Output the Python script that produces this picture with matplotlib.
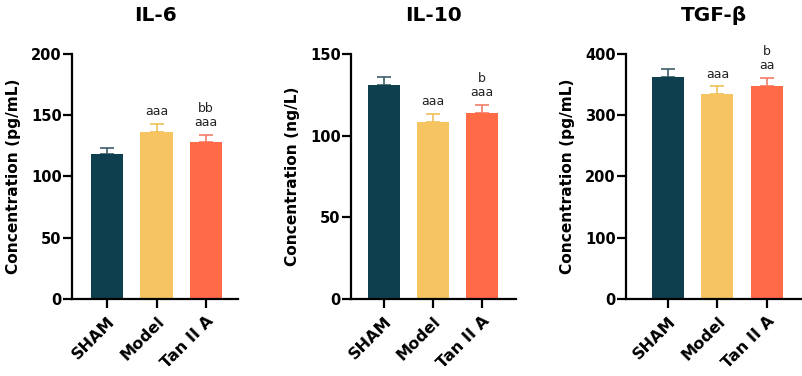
import matplotlib
matplotlib.use("Agg")
import matplotlib.pyplot as plt

plt.rcParams["font.family"] = "DejaVu Sans"

groups = ["SHAM", "Model", "Tan II A"]
bar_colors = ["#0e3f4e", "#f6c460", "#ff6b47"]
err_colors = ["#3d5d68", "#efc05a", "#f47d68"]

titles = ["IL-6", "IL-10", "TGF-β"]
ylabels = ["Concentration (pg/mL)", "Concentration (ng/L)", "Concentration (pg/mL)"]

il6_mean = [118, 136, 128]
il6_err = [5, 7, 6]
il10_mean = [131, 108.5, 114]
il10_err = [5, 5, 5]
tgfb_mean = [363, 335, 347]
tgfb_err = [12, 12, 14]

il6_sig = ["", "aaa", "bb\naaa"]
il10_sig = ["", "aaa", "b\naaa"]
tgfb_sig = ["", "aaa", "b\naa"]

ylims = [200, 150, 400]
ysteps = [50, 50, 100]

means = [il6_mean, il10_mean, tgfb_mean]
errs = [il6_err, il10_err, tgfb_err]
sigs = [il6_sig, il10_sig, tgfb_sig]

# axes boxes in figure fractions [left, bottom, width, height]
boxes = [
    [0.0897, 0.2048, 0.2067, 0.6516],
    [0.4371, 0.2048, 0.2055, 0.6516],
    [0.7796, 0.2048, 0.2192, 0.6516],
]
xlims = [(-0.71, 2.65), (-0.68, 2.69), (-0.86, 2.72)]

fig = plt.figure(figsize=(8.03, 3.76), dpi=100)

for i in range(3):
    ax = fig.add_axes(boxes[i])
    x = range(len(groups))
    ax.bar(x, means[i], width=0.65, color=bar_colors, zorder=2)
    for j in x:
        ax.errorbar(j, means[i][j], yerr=[[0], [errs[i][j]]], fmt="none",
                    ecolor=err_colors[j], elinewidth=1.2, capsize=5,
                    capthick=1.2, zorder=1)
        if sigs[i][j]:
            ax.annotate(sigs[i][j], (j, means[i][j] + errs[i][j]),
                        xytext=(0, 4), textcoords="offset points",
                        ha="center", va="bottom", fontsize=9,
                        color="#222222", linespacing=1.1)

    ax.set_xlim(*xlims[i])
    ax.set_ylim(0, ylims[i])
    ax.set_yticks(range(0, ylims[i] + 1, ysteps[i]))
    ax.set_xticks(list(x))
    ax.set_xticklabels(groups, rotation=45, ha="right", va="top",
                       rotation_mode="anchor", fontsize=11.5, fontweight="bold")
    for lbl in ax.get_yticklabels():
        lbl.set_fontweight("bold")
        lbl.set_fontsize(10.5)

    ax.spines["top"].set_visible(False)
    ax.spines["right"].set_visible(False)
    ax.spines["left"].set_linewidth(1.6)
    ax.spines["bottom"].set_linewidth(1.6)
    ax.tick_params(axis="y", width=1.6, length=6.5, pad=1)
    ax.tick_params(axis="x", width=1.6, length=6.5, pad=4)

    ax.set_ylabel(ylabels[i], fontsize=11.1, fontweight="bold", labelpad=7)
    ax.set_title(titles[i], fontsize=14.5, fontweight="bold", pad=23.5)

fig.savefig("out.png", dpi=100)
